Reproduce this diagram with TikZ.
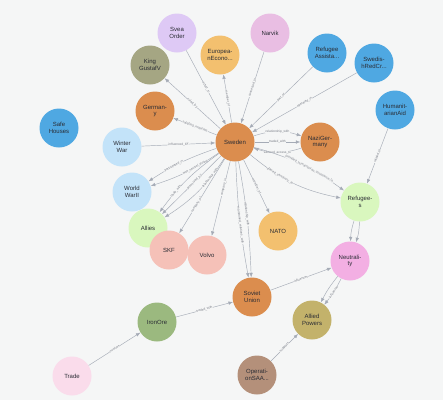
\documentclass[tikz,border=0pt]{standalone}
\usepackage{fontspec}
\setmainfont{Liberation Sans}
\usetikzlibrary{arrows.meta}

\definecolor{canvas}{RGB}{245,246,246}
\definecolor{edgegray}{RGB}{165,171,182}
\definecolor{labelgray}{RGB}{120,124,134}
\definecolor{nodetext}{RGB}{42,44,52}
\definecolor{countryorange}{RGB}{219,141,78}
\definecolor{orderlilac}{RGB}{222,201,245}
\definecolor{unionyellow}{RGB}{243,192,111}
\definecolor{placepink}{RGB}{233,190,227}
\definecolor{kingolive}{RGB}{165,166,131}
\definecolor{aidblue}{RGB}{79,168,226}
\definecolor{warblue}{RGB}{195,227,249}
\definecolor{groupgreen}{RGB}{217,247,190}
\definecolor{firmsalmon}{RGB}{245,193,184}
\definecolor{neutralpink}{RGB}{243,175,227}
\definecolor{oregreen}{RGB}{155,185,127}
\definecolor{powersgold}{RGB}{195,178,107}
\definecolor{tradepink}{RGB}{250,220,235}
\definecolor{opbrown}{RGB}{180,144,122}

\begin{document}
\begin{tikzpicture}[x=1pt,y=-1pt,
        entity/.style={circle,minimum size=39pt,inner sep=0pt,align=center,
            font=\fontsize{6}{6.6}\selectfont,text=nodetext},
        rel/.style={draw=edgegray,line width=0.45pt,-{Latex[length=4.5pt,width=3.5pt]}},
        rlabel/.style={sloped,fill=canvas,inner sep=0.3pt,
            font=\fontsize{3.2}{3.4}\selectfont,text=labelgray}]

    \fill[canvas] (0,0) rectangle (443,400);

    % Centre
    \node[entity,fill=countryorange] (swe) at (235,142) {Sweden};

    % Upper ring
    \node[entity,fill=orderlilac] (svea) at (177,33) {Svea\\Order};
    \node[entity,fill=unionyellow] (eec) at (220,55) {Europea-\\nEcono...};
    \node[entity,fill=placepink] (narvik) at (270,33) {Narvik};
    \node[entity,fill=kingolive] (king) at (150,65) {King\\GustafV};
    \node[entity,fill=aidblue] (refassist) at (327,53) {Refugee\\Assista...};
    \node[entity,fill=aidblue] (redcross) at (374,63) {Swedis-\\hRedCr...};
    \node[entity,fill=aidblue] (humaid) at (395,110) {Humanit-\\arianAid};
    \node[entity,fill=countryorange] (germany) at (155,111) {German-\\y};

    % Middle ring
    \node[entity,fill=aidblue] (safe) at (59,128) {Safe\\Houses};
    \node[entity,fill=warblue] (winter) at (122,147) {Winter\\War};
    \node[entity,fill=countryorange] (nazi) at (320,142) {NaziGer-\\many};
    \node[entity,fill=warblue] (ww2) at (132,192) {World\\WarII};
    \node[entity,fill=groupgreen] (refugees) at (360,202) {Refugee-\\s};

    % Lower ring
    \node[entity,fill=groupgreen] (allies) at (148,228) {Allies};
    \node[entity,fill=firmsalmon] (skf) at (169,250) {SKF};
    \node[entity,fill=firmsalmon] (volvo) at (207,255) {Volvo};
    \node[entity,fill=unionyellow] (nato) at (278,231) {NATO};
    \node[entity,fill=neutralpink] (neutral) at (350,261) {Neutrali-\\ty};
    \node[entity,fill=countryorange] (soviet) at (252,297) {Soviet\\Union};
    \node[entity,fill=oregreen] (ore) at (157,322) {IronOre};
    \node[entity,fill=powersgold] (powers) at (312,320) {Allied\\Powers};
    \node[entity,fill=tradepink] (trade) at (72,376) {Trade};
    \node[entity,fill=opbrown] (op) at (257,375) {Operati-\\onSAA...};

    % Edges round Sweden
    \draw[rel] (svea) -- node[rlabel] {acted\_in} (swe);
    \draw[rel] (swe) -- node[rlabel] {member\_of} (eec);
    \draw[rel] (narvik) -- node[rlabel] {connected\_to} (swe);
    \draw[rel] (swe) -- node[rlabel] {ruled\_by} (king);
    \draw[rel] (refassist) -- node[rlabel] {part\_of} (swe);
    \draw[rel] (redcross) -- node[rlabel] {operated\_in} (swe);
    \draw[rel] (swe) -- node[rlabel] {supplied\_materials} (germany);
    \draw[rel] (winter) -- node[rlabel] {influenced\_by} (swe);
    \draw[rel] (nazi) to[bend left=18] node[rlabel] {allowed\_access\_to} (swe);
    \draw[rel] (swe) -- node[rlabel] {traded\_with} (nazi);
    \draw[rel] (swe) to[bend left=18] node[rlabel] {relationship\_with} (nazi);
    \draw[rel] (swe) to[bend right=14] node[rlabel,pos=0.35] {offered\_sanctuary\_to} (refugees);
    \draw[rel] (swe) to[bend left=10] node[rlabel,pos=0.6] {provided\_humanitarian\_assistance\_to} (refugees);
    \draw[rel] (swe) to[bend left=8] node[rlabel,pos=0.35] {was\_neutral\_during} (ww2);
    \draw[rel] (swe) to[bend right=7] node[rlabel,pos=0.62] {participated\_in} (ww2);
    \draw[rel] (swe) to[bend left=12] node[rlabel,pos=0.27] {relationship\_with} (allies);
    \draw[rel] (swe) -- node[rlabel,pos=0.45] {pressured\_by} (allies);
    \draw[rel] (swe) to[bend right=9] node[rlabel,pos=0.7] {trade\_with} (allies);
    \draw[rel] (swe) -- node[rlabel,pos=0.62] {company\_of} (skf);
    \draw[rel] (swe) -- node[rlabel,pos=0.35] {company\_in} (volvo);
    \draw[rel] (swe) -- node[rlabel] {member\_of} (nato);
    \draw[rel] (swe) to[bend left=4] node[rlabel,pos=0.45] {relationship\_with} (soviet);
    \draw[rel] (swe) to[bend right=4] node[rlabel,pos=0.55] {maintained\_relations\_with} (soviet);

    % Outer edges
    \draw[rel] (humaid) -- node[rlabel] {related\_to} (refugees);
    \draw[rel] (refugees) to[bend left=8] (neutral);
    \draw[rel] (refugees) to[bend right=8] (neutral);
    \draw[rel] (soviet) -- node[rlabel] {influences} (neutral);
    \draw[rel] (neutral) to[bend left=6] node[rlabel] {influences} (powers);
    \draw[rel] (neutral) to[bend right=6] (powers);
    \draw[rel] (ore) -- node[rlabel] {traded\_with} (soviet);
    \draw[rel] (trade) -- node[rlabel] {involves} (ore);
    \draw[rel] (op) -- node[rlabel] {supports} (powers);
\end{tikzpicture}
\end{document}
